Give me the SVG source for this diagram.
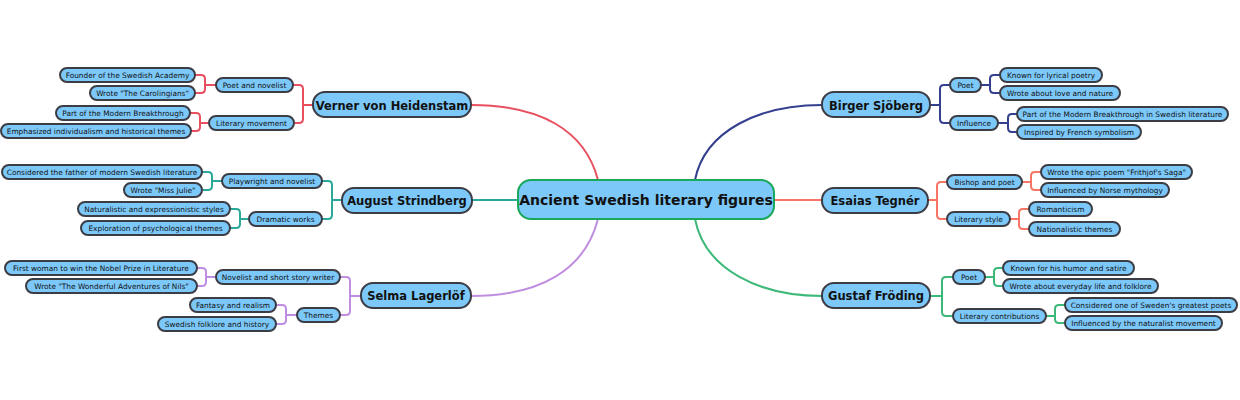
<svg xmlns="http://www.w3.org/2000/svg" width="1240" height="400" viewBox="0 0 1240 400">
<style>
.n rect{fill:#7cc8f9;stroke:#3c3c44;stroke-width:2}
.c rect{fill:#7cc8f9;stroke:#1aa85a;stroke-width:2}
text{font-family:"DejaVu Sans","Liberation Sans",sans-serif;fill:#111;text-anchor:middle}
.s text{font-size:7.4px}
.m text{font-size:11.5px;font-weight:bold}
.c text{font-size:14px;font-weight:bold}
#connectors path{fill:none;stroke-width:2}
.r{stroke:#e8505f}.t{stroke:#2aa89a}.p{stroke:#c08ee0}.b{stroke:#343f8f}.o{stroke:#f87565}.g{stroke:#3cb878}
</style>
<rect width="1240" height="400" fill="#fff"/>
<g id="connectors">
<path class="r" d="M471 105 C540 105 585 130 598 180"/>
<path class="t" d="M472 200 H518"/>
<path class="p" d="M471 296 C540 296 585 270 598 219"/>
<path class="b" d="M822 105 C760 105 705 130 695 180"/>
<path class="o" d="M774 200 H822"/>
<path class="g" d="M822 296 C760 296 705 270 695 219"/>
<path class="r" d="M313 105 H303 V89 Q303 85 299 85 H293 M303 105 V119 Q303 123 299 123 H294"/>
<path class="r" d="M216 85 H205 V79 Q205 75 201 75 H195 M205 85 V89 Q205 93 201 93 H195"/>
<path class="r" d="M209 123 H200 V117 Q200 113 196 113 H190 M200 123 V127 Q200 131 196 131 H191"/>
<path class="t" d="M342 200 H332 V185 Q332 181 328 181 H322 M332 200 V215 Q332 219 328 219 H322"/>
<path class="t" d="M222 181 H212 V176 Q212 172 208 172 H202 M212 181 V186 Q212 190 208 190 H202"/>
<path class="t" d="M249 219 H240 V213 Q240 209 236 209 H230 M240 219 V224 Q240 228 236 228 H230"/>
<path class="p" d="M361 296 H350 V281 Q350 277 346 277 H340 M350 296 V311 Q350 315 346 315 H340"/>
<path class="p" d="M216 277 H206 V272 Q206 268 202 268 H197 M206 277 V282 Q206 286 202 286 H197"/>
<path class="p" d="M297 315 H286 V309 Q286 305 282 305 H276 M286 315 V320 Q286 324 282 324 H276"/>
<path class="b" d="M930 105 H940 V89 Q940 85 944 85 H950 M940 105 V119 Q940 123 944 123 H950"/>
<path class="b" d="M981 85 H990 V79 Q990 75 994 75 H1000 M990 85 V89 Q990 93 994 93 H1000"/>
<path class="b" d="M998 123 H1008 V118 Q1008 114 1012 114 H1017 M1008 123 V128 Q1008 132 1012 132 H1017"/>
<path class="o" d="M928 200 H937 V186 Q937 182 941 182 H947 M937 200 V215 Q937 219 941 219 H947"/>
<path class="o" d="M1022 182 H1031 V176 Q1031 172 1035 172 H1041 M1031 182 V186 Q1031 190 1035 190 H1041"/>
<path class="o" d="M1010 219 H1019 V213 Q1019 209 1023 209 H1029 M1019 219 V225 Q1019 229 1023 229 H1029"/>
<path class="g" d="M930 296 H942 V281 Q942 277 946 277 H953 M942 296 V312 Q942 316 946 316 H953"/>
<path class="g" d="M985 277 H994 V272 Q994 268 998 268 H1003 M994 277 V282 Q994 286 998 286 H1003"/>
<path class="g" d="M1046 316 H1055 V309 Q1055 305 1059 305 H1065 M1055 316 V319 Q1055 323 1059 323 H1065"/>
</g>
<g id="center" class="c"><rect x="518" y="180" width="256" height="39" rx="13"/><text x="646" y="205">Ancient Swedish literary figures</text></g>
<g id="verner" class="n m"><rect x="313" y="92" width="158" height="25" rx="12"/><text x="392" y="109.5">Verner von Heidenstam</text></g>
<g id="verner-poet" class="n s"><rect x="216" y="78" width="77" height="14" rx="7"/><text x="254.5" y="88">Poet and novelist</text></g>
<g id="verner-movement" class="n s"><rect x="209" y="116" width="85" height="14" rx="7"/><text x="251.5" y="126">Literary movement</text></g>
<g id="verner-l1" class="n s"><rect x="60" y="68" width="135" height="14" rx="7"/><text x="127.5" y="78">Founder of the Swedish Academy</text></g>
<g id="verner-l2" class="n s"><rect x="90" y="86" width="105" height="14" rx="7"/><text x="142.5" y="96">Wrote "The Carolingians"</text></g>
<g id="verner-l3" class="n s"><rect x="56" y="106" width="134" height="14" rx="7"/><text x="123" y="116">Part of the Modern Breakthrough</text></g>
<g id="verner-l4" class="n s"><rect x="1" y="124" width="190" height="14" rx="7"/><text x="96" y="134">Emphasized individualism and historical themes</text></g>
<g id="august" class="n m"><rect x="342" y="188" width="130" height="25" rx="12"/><text x="407" y="204.5">August Strindberg</text></g>
<g id="august-pn" class="n s"><rect x="222" y="174" width="100" height="14" rx="7"/><text x="272" y="184">Playwright and novelist</text></g>
<g id="august-dw" class="n s"><rect x="249" y="212" width="73" height="14" rx="7"/><text x="285.5" y="222">Dramatic works</text></g>
<g id="august-l1" class="n s"><rect x="2" y="165" width="200" height="14" rx="7"/><text x="102" y="175">Considered the father of modern Swedish literature</text></g>
<g id="august-l2" class="n s"><rect x="124" y="183" width="78" height="14" rx="7"/><text x="163" y="193">Wrote "Miss Julie"</text></g>
<g id="august-l3" class="n s"><rect x="78" y="202" width="152" height="14" rx="7"/><text x="154" y="212">Naturalistic and expressionistic styles</text></g>
<g id="august-l4" class="n s"><rect x="81" y="221" width="149" height="14" rx="7"/><text x="155.5" y="231">Exploration of psychological themes</text></g>
<g id="selma" class="n m"><rect x="361" y="283" width="110" height="25" rx="12"/><text x="416" y="300">Selma Lagerlöf</text></g>
<g id="selma-nsw" class="n s"><rect x="216" y="270" width="124" height="14" rx="7"/><text x="278" y="280">Novelist and short story writer</text></g>
<g id="selma-themes" class="n s"><rect x="297" y="308" width="43" height="14" rx="7"/><text x="318.5" y="318">Themes</text></g>
<g id="selma-l1" class="n s"><rect x="5" y="261" width="192" height="14" rx="7"/><text x="101" y="271">First woman to win the Nobel Prize in Literature</text></g>
<g id="selma-l2" class="n s"><rect x="26" y="279" width="171" height="14" rx="7"/><text x="111.5" y="289">Wrote "The Wonderful Adventures of Nils"</text></g>
<g id="selma-l3" class="n s"><rect x="190" y="298" width="86" height="14" rx="7"/><text x="233" y="308">Fantasy and realism</text></g>
<g id="selma-l4" class="n s"><rect x="158" y="317" width="118" height="14" rx="7"/><text x="217" y="327">Swedish folklore and history</text></g>
<g id="birger" class="n m"><rect x="822" y="92" width="108" height="25" rx="12"/><text x="876" y="109.5">Birger Sjöberg</text></g>
<g id="birger-poet" class="n s"><rect x="950" y="78" width="31" height="14" rx="7"/><text x="965.5" y="88">Poet</text></g>
<g id="birger-infl" class="n s"><rect x="950" y="116" width="48" height="14" rx="7"/><text x="974" y="126">Influence</text></g>
<g id="birger-l1" class="n s"><rect x="1000" y="68" width="102" height="14" rx="7"/><text x="1051" y="78">Known for lyrical poetry</text></g>
<g id="birger-l2" class="n s"><rect x="1000" y="86" width="120" height="14" rx="7"/><text x="1060" y="96">Wrote about love and nature</text></g>
<g id="birger-l3" class="n s"><rect x="1017" y="107" width="211" height="14" rx="7"/><text x="1122.5" y="117">Part of the Modern Breakthrough in Swedish literature</text></g>
<g id="birger-l4" class="n s"><rect x="1017" y="125" width="124" height="14" rx="7"/><text x="1079" y="135">Inspired by French symbolism</text></g>
<g id="esaias" class="n m"><rect x="822" y="188" width="106" height="25" rx="12"/><text x="875" y="204.5">Esaias Tegnér</text></g>
<g id="esaias-bp" class="n s"><rect x="947" y="175" width="75" height="14" rx="7"/><text x="984.5" y="185">Bishop and poet</text></g>
<g id="esaias-ls" class="n s"><rect x="947" y="212" width="63" height="14" rx="7"/><text x="978.5" y="222">Literary style</text></g>
<g id="esaias-l1" class="n s"><rect x="1041" y="165" width="151" height="14" rx="7"/><text x="1116.5" y="175">Wrote the epic poem "Frithjof's Saga"</text></g>
<g id="esaias-l2" class="n s"><rect x="1041" y="183" width="128" height="14" rx="7"/><text x="1105" y="193">Influenced by Norse mythology</text></g>
<g id="esaias-l3" class="n s"><rect x="1029" y="202" width="63" height="14" rx="7"/><text x="1060.5" y="212">Romanticism</text></g>
<g id="esaias-l4" class="n s"><rect x="1029" y="222" width="91" height="14" rx="7"/><text x="1074.5" y="232">Nationalistic themes</text></g>
<g id="gustaf" class="n m"><rect x="822" y="283" width="108" height="25" rx="12"/><text x="876" y="300">Gustaf Fröding</text></g>
<g id="gustaf-poet" class="n s"><rect x="953" y="270" width="32" height="14" rx="7"/><text x="969" y="280">Poet</text></g>
<g id="gustaf-lc" class="n s"><rect x="953" y="309" width="93" height="14" rx="7"/><text x="999.5" y="319">Literary contributions</text></g>
<g id="gustaf-l1" class="n s"><rect x="1003" y="261" width="131" height="14" rx="7"/><text x="1068.5" y="271">Known for his humor and satire</text></g>
<g id="gustaf-l2" class="n s"><rect x="1003" y="279" width="155" height="14" rx="7"/><text x="1080.5" y="289">Wrote about everyday life and folklore</text></g>
<g id="gustaf-l3" class="n s"><rect x="1065" y="298" width="172" height="14" rx="7"/><text x="1151" y="308">Considered one of Sweden's greatest poets</text></g>
<g id="gustaf-l4" class="n s"><rect x="1065" y="316" width="157" height="14" rx="7"/><text x="1143.5" y="326">Influenced by the naturalist movement</text></g>
</svg>
